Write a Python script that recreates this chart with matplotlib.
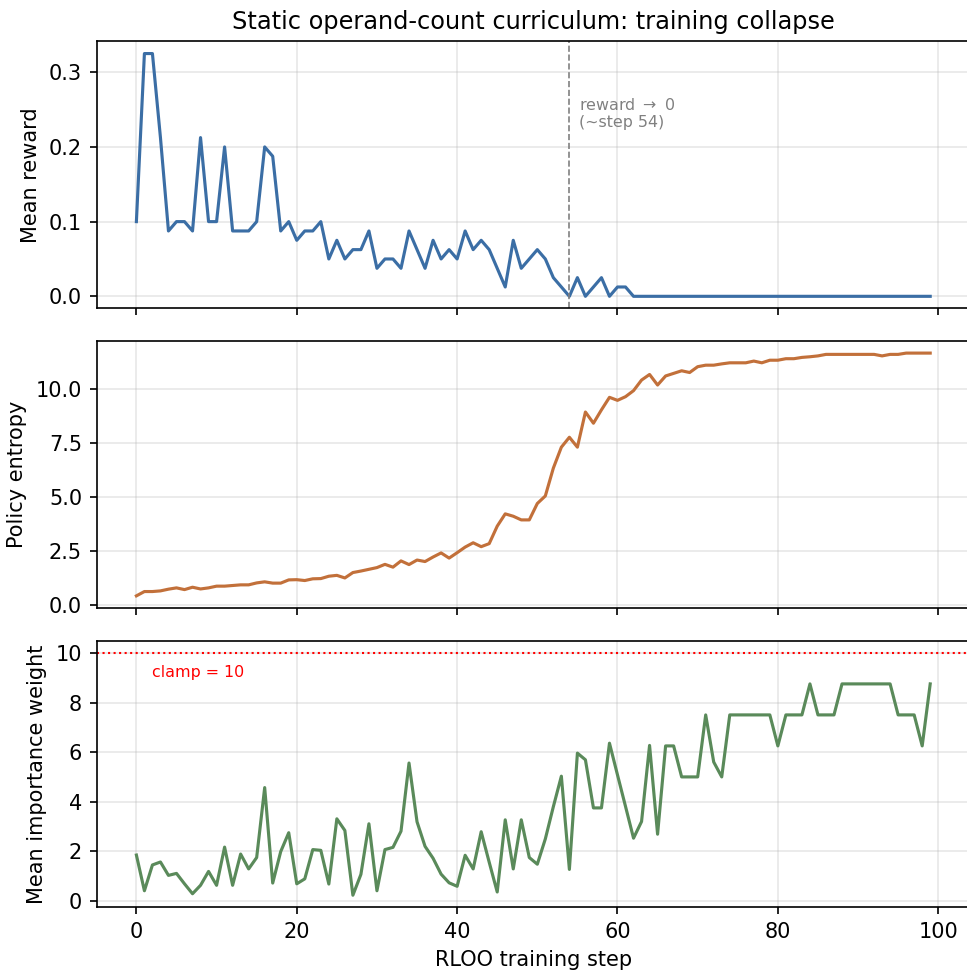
import matplotlib
matplotlib.use("Agg")
from matplotlib import pyplot as plt
from matplotlib.ticker import MultipleLocator, FormatStrFormatter
import numpy as np

steps = np.arange(100)

mean_reward = [
    0.1, 0.325, 0.325, 0.2125, 0.0875, 0.1, 0.1, 0.0875, 0.2125, 0.1,
    0.1, 0.2, 0.0875, 0.0875, 0.0875, 0.1, 0.2, 0.1875, 0.0875, 0.1,
    0.075, 0.0875, 0.0875, 0.1, 0.05, 0.075, 0.05, 0.0625, 0.0625, 0.0875,
    0.0375, 0.05, 0.05, 0.0375, 0.0875, 0.0625, 0.0375, 0.075, 0.05, 0.0625,
    0.05, 0.0875, 0.0625, 0.075, 0.0625, 0.0375, 0.0125, 0.075, 0.0375, 0.05,
    0.0625, 0.05, 0.025, 0.0125, 0.0, 0.025, 0.0, 0.0125, 0.025, 0.0,
    0.0125, 0.0125,
] + [0.0] * 38

policy_entropy = [
    0.43, 0.63, 0.63, 0.66, 0.74, 0.80, 0.72, 0.83, 0.75, 0.80,
    0.88, 0.88, 0.91, 0.94, 0.94, 1.03, 1.08, 1.02, 1.02, 1.17,
    1.18, 1.14, 1.22, 1.23, 1.34, 1.38, 1.26, 1.51, 1.58, 1.66,
    1.74, 1.89, 1.76, 2.05, 1.88, 2.09, 2.02, 2.23, 2.42, 2.18,
    2.43, 2.69, 2.89, 2.71, 2.85, 3.66, 4.23, 4.12, 3.95, 3.95,
    4.71, 5.06, 6.35, 7.32, 7.78, 7.32, 8.95, 8.43, 9.05, 9.63,
    9.49, 9.66, 9.94, 10.43, 10.69, 10.20, 10.62, 10.74, 10.86, 10.78,
    11.05, 11.12, 11.12, 11.18, 11.23, 11.23, 11.23, 11.31, 11.23, 11.35,
    11.35, 11.42, 11.42, 11.48, 11.51, 11.55, 11.62, 11.62, 11.62, 11.62,
    11.62, 11.62, 11.62, 11.55, 11.62, 11.62, 11.68, 11.68, 11.68, 11.68,
]

importance_weight = [
    1.85, 0.41, 1.45, 1.57, 1.03, 1.11, 0.69, 0.29, 0.63, 1.19,
    0.63, 2.17, 0.63, 1.89, 1.29, 1.75, 4.57, 0.72, 1.99, 2.75,
    0.69, 0.89, 2.07, 2.04, 0.68, 3.31, 2.84, 0.23, 1.07, 3.11,
    0.41, 2.07, 2.16, 2.81, 5.56, 3.19, 2.20, 1.72, 1.08, 0.73,
    0.59, 1.84, 1.29, 2.79, 1.56, 0.36, 3.27, 1.29, 3.27, 1.75,
    1.48, 2.50, 3.80, 5.03, 1.27, 5.96, 5.69, 3.75, 3.75, 6.36,
    5.08, 3.81, 2.53, 3.20, 6.27, 2.69, 6.25, 6.25, 5.0, 5.0,
    5.0, 7.5, 5.6, 5.0, 7.5, 7.5, 7.5, 7.5, 7.5, 7.5,
    6.25, 7.5, 7.5, 7.5, 8.75, 7.5, 7.5, 7.5, 8.75, 8.75,
    8.75, 8.75, 8.75, 8.75, 8.75, 7.5, 7.5, 7.5, 6.25, 8.75,
]

collapse_step = 54
clamp = 10

plt.rcParams.update({
    "font.family": "DejaVu Sans",
    "xtick.labelsize": 10, "ytick.labelsize": 10,
})

dpi = 150
fig = plt.figure(figsize=(967 / dpi, 970 / dpi), dpi=dpi)
left, width = 0.1, 0.903
ax1 = fig.add_axes([left, 0.682, width, 0.2753])
ax2 = fig.add_axes([left, 0.3732, width, 0.2753], sharex=ax1)
ax3 = fig.add_axes([left, 0.0646, width, 0.2748], sharex=ax1)

# reward
ax1.plot(steps, mean_reward, color="#3b6ea5", lw=1.5)
ax1.axvline(collapse_step, color="gray", ls="--", lw=0.8)
ax1.text(collapse_step + 1.2, 0.245, "reward $\\rightarrow$ 0\n(~step 54)",
         color="gray", fontsize=7.6, va="center")
ax1.set_ylabel("Mean reward", fontsize=10)
ax1.set_title("Static operand-count curriculum: training collapse", fontsize=11.5)

# entropy
ax2.plot(steps, policy_entropy, color="#c2703a", lw=1.5)
ax2.yaxis.set_major_locator(MultipleLocator(2.5))
ax2.yaxis.set_major_formatter(FormatStrFormatter("%.1f"))
ax2.set_ylabel("Policy entropy", fontsize=10)

# importance weights
ax3.plot(steps, importance_weight, color="#5a8a5a", lw=1.5)
ax3.axhline(clamp, color="red", ls=":", lw=1.0)
ax3.text(2, 9.2, f"clamp = {clamp}", color="red", fontsize=7.6, va="center")
ax3.set_ylabel("Mean importance weight", fontsize=10)
ax3.set_xlabel("RLOO training step", fontsize=10)

for ax in (ax1, ax2, ax3):
    ax.grid(alpha=0.3)
for ax in (ax1, ax2):
    ax.tick_params(labelbottom=False)

fig.savefig("out.png", dpi=dpi)
